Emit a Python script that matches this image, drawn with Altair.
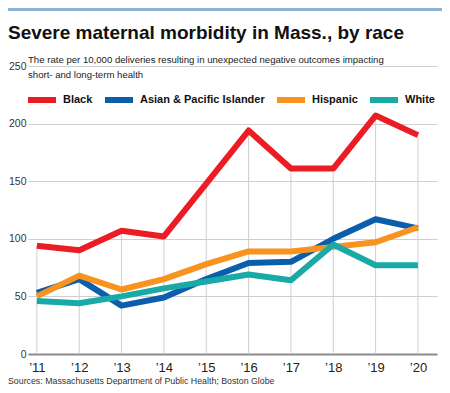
import altair as alt
import pandas as pd

years = ["’11", "’12", "’13", "’14", "’15", "’16", "’17", "’18", "’19", "’20"]
series_names = ["Black", "Asian & Pacific Islander", "Hispanic", "White"]
black = [94, 90, 107, 102, 148, 194, 161, 161, 207, 190]
asian = [53, 65, 42, 49, 65, 79, 80, 100, 117, 109]
hispanic = [50, 68, 56, 65, 78, 89, 89, 93, 97, 110]
white = [46, 44, 50, 57, 63, 69, 64, 95, 77, 77]
colors = ["#ec1c24", "#0b5eab", "#f7931e", "#19aaa7"]

title_text = "Severe maternal morbidity in Mass., by race"
subtitle_1 = "The rate per 10,000 deliveries resulting in unexpected negative outcomes impacting"
subtitle_2 = "short- and long-term health"
source_text = "Sources: Massachusetts Department of Public Health; Boston Globe"

FONT = "Liberation Sans"

rows = []
for name, vals in zip(series_names, [black, asian, hispanic, white]):
    for y, v in zip(years, vals):
        rows.append({"year": y, "series": name, "value": v, "order": series_names.index(name)})
df = pd.DataFrame(rows)
df_black = pd.DataFrame({"year": years, "value": black})

x_enc = alt.X("year:O", sort=years, title=None,
              scale=alt.Scale(type="point", padding=0.33, align=0.318),
              axis=alt.Axis(labelAngle=0, ticks=False, grid=False, domain=True,
                            domainColor="#8a8a8a", domainWidth=2,
                            labelFont=FONT, labelFontSize=13, labelColor="#222",
                            labelPadding=7))
y_scale = alt.Scale(domain=[0, 250])

drops = alt.Chart(df_black).mark_rule(color="#cfcfcf", strokeWidth=1).encode(
    x=x_enc,
    y=alt.Y("value:Q", scale=y_scale, title=None,
            axis=alt.Axis(values=[0, 50, 100, 150, 200, 250], ticks=False, domain=False,
                          grid=True, gridColor="#cfcfcf", gridWidth=1,
                          labelFont=FONT, labelFontSize=10.5, labelColor="#333",
                          labelPadding=2)),
    y2=alt.datum(0),
)

lines = alt.Chart(df).mark_line(strokeWidth=6, strokeJoin="round").encode(
    x=x_enc,
    y=alt.Y("value:Q", scale=y_scale),
    color=alt.Color("series:N", sort=series_names,
                    scale=alt.Scale(domain=series_names, range=colors),
                    legend=alt.Legend(title=None, orient="none", direction="horizontal",
                                      legendX=-3, legendY=17, padding=0,
                                      symbolType="stroke", symbolSize=784,
                                      symbolStrokeWidth=6, labelOffset=4,
                                      columnPadding=0,
                                      labelFont=FONT, labelFontSize=11,
                                      labelFontWeight="bold", labelColor="#111")),
    detail="series:N",
    order=alt.Order("order:Q", sort="descending"),
)

bar = alt.Chart(pd.DataFrame({"a": [0]})).mark_rect(color="#8cb3d1").encode(
    x=alt.value(-20), x2=alt.value(414), y=alt.value(-63), y2=alt.value(-55)
)

def txt(s, x, y, size, weight="normal", color="#111"):
    return alt.Chart(pd.DataFrame({"t": [s]})).mark_text(
        align="left", baseline="alphabetic", font=FONT, fontSize=size,
        fontWeight=weight, color=color
    ).encode(text="t:N", x=alt.value(x), y=alt.value(y))

title = txt(title_text, -20, -27, 19, "bold", "#111")
sub1 = txt(subtitle_1, 0, -3, 9.6, "normal", "#222")
sub2 = txt(subtitle_2, 0, 12, 9.6, "normal", "#222")
src = txt(source_text, -20, 318, 8.8, "normal", "#333")

chart = alt.layer(drops, lines, bar, title, sub1, sub2, src).properties(
    width=409, height=288,
    autosize=alt.AutoSizeParams(type="none"),
    padding={"left": 20, "top": 58, "right": 5, "bottom": 31},
    background="white",
).configure_view(stroke=None)

chart.save("out.html", embed_options={"renderer": "svg", "actions": False})
